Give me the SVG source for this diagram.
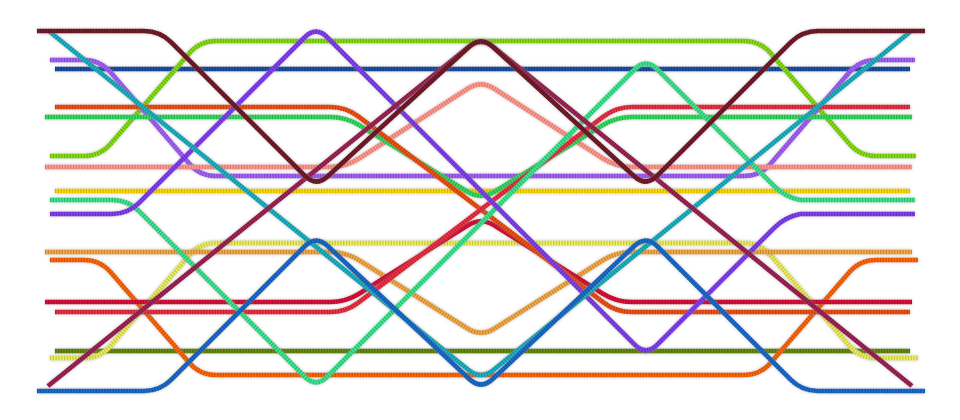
<svg xmlns="http://www.w3.org/2000/svg" xmlns:xlink="http://www.w3.org/1999/xlink" width="960" height="420" viewBox="0 0 960 420">
<style>
.base{fill:none;stroke-width:4.6;stroke-linecap:butt;stroke-linejoin:round}
.tex{fill:none;stroke-width:4.6;stroke-dasharray:1.2 1.6;stroke-opacity:0.5;stroke-linecap:butt}
.ln{filter:url(#halo)}
</style>
<defs>
<filter id="halo" filterUnits="userSpaceOnUse" x="0" y="0" width="960" height="420">
<feGaussianBlur in="SourceAlpha" stdDeviation="1.6" result="b"/>
<feFlood flood-color="#888" flood-opacity="0.55"/>
<feComposite in2="b" operator="in" result="s"/>
<feMerge><feMergeNode in="s"/><feMergeNode in="SourceGraphic"/></feMerge>
</filter>
<path id="p-maroon" d="M37 31 H144 Q160 31 171.3 42.3 L304.7 175.7 Q316 187 327.8 176.2 L469.2 46.8 Q481 36 492.8 46.8 L634.2 176.2 Q646 187 657.3 175.7 L790.7 42.3 Q802 31 818 31 H925"/>
<path id="p-teal" d="M50 32 L468.6 370 Q481 380 493.4 370 L910 32"/>
<path id="p-violet" d="M50 60 H84 Q100 60 110.4 72.1 L189.6 163.9 Q200 176 216 176 H744 Q760 176 770.4 163.9 L849.6 72.1 Q860 60 876 60 H915"/>
<path id="p-navy" d="M55 69 H910"/>
<path id="p-orangered" d="M55 107 H330 Q346 107 358.7 116.7 L603.3 302.3 Q616 312 632 312 H910"/>
<path id="p-red" d="M55 312 H330 Q346 312 358.7 302.3 L603.3 116.7 Q616 107 632 107 H910"/>
<path id="p-green" d="M45 117 H330 Q346 117 359.6 125.4 L467.4 191.6 Q481 200 494.6 191.6 L602.4 125.4 Q616 117 632 117 H912"/>
<path id="p-lime" d="M50 156 H84 Q100 156 110.5 143.9 L189.5 53.1 Q200 41 216 41 H744 Q760 41 770.5 53.1 L849.5 143.9 Q860 156 876 156 H916"/>
<path id="p-pink" d="M45 167 H330 Q346 167 359.4 158.3 L467.6 88.7 Q481 80 494.4 88.7 L602.6 158.3 Q616 167 632 167 H912"/>
<path id="p-yellow" d="M55 191 H910"/>
<path id="p-mint" d="M50 200 H112 Q128 200 139.3 211.3 L304.7 376.7 Q316 388 327.3 376.7 L634.7 69.3 Q646 58 657.3 69.3 L773.7 185.7 Q785 197 800 200 H915"/>
<path id="p-purple" d="M50 214 H112 Q128 214 139.3 202.7 L304.7 37.3 Q316 26 327.3 37.3 L634.7 344.7 Q646 356 657.3 344.7 L773.7 228.3 Q785 217 800 214 H915"/>
<path id="p-paleyellow" d="M50 358 H84 Q100 358 110.5 345.9 L189.5 255.1 Q200 243 216 243 H744 Q760 243 770.5 255.1 L849.5 345.9 Q860 358 876 358 H918"/>
<path id="p-apricot" d="M45 252 H330 Q346 252 359.5 260.5 L467.5 328.5 Q481 337 494.5 328.5 L602.5 260.5 Q616 252 632 252 H912"/>
<path id="p-orange" d="M50 260 H84 Q100 260 110.5 272.1 L189.5 362.9 Q200 375 216 375 H744 Q760 375 770.5 362.9 L849.5 272.1 Q860 260 876 260 H918"/>
<path id="p-crimson" d="M45 302 H330 Q346 302 359.5 293.5 L467.5 225.5 Q481 217 494.5 225.5 L602.5 293.5 Q616 302 632 302 H912"/>
<path id="p-olive" d="M55 351 H910"/>
<path id="p-blue" d="M37 391 H144 Q160 391 171.3 379.7 L304.7 246.3 Q316 235 327.7 246 L469.3 379 Q481 390 492.7 379 L634.3 246 Q646 235 657.3 246.3 L790.7 379.7 Q802 391 818 391 H925"/>
<path id="p-magenta" d="M48 386 L468.5 47 Q481 37 493.5 47 L912 386"/>
</defs>
<rect width="960" height="420" fill="#ffffff"/>
<g id="connectors">
<g id="line-navy" class="ln"><use href="#p-navy" class="base" stroke="#1a52a8"/><use href="#p-navy" class="tex" stroke="#0a2a60"/></g>
<g id="line-yellow" class="ln"><use href="#p-yellow" class="base" stroke="#ffdd00"/><use href="#p-yellow" class="tex" stroke="#b08a00"/></g>
<g id="line-olive" class="ln"><use href="#p-olive" class="base" stroke="#6a8c10"/><use href="#p-olive" class="tex" stroke="#3a5000"/></g>
<g id="line-lime" class="ln"><use href="#p-lime" class="base" stroke="#8ae010"/><use href="#p-lime" class="tex" stroke="#4a8a00"/></g>
<g id="line-violet" class="ln"><use href="#p-violet" class="base" stroke="#a564f8"/><use href="#p-violet" class="tex" stroke="#6a30b0"/></g>
<g id="line-paleyellow" class="ln"><use href="#p-paleyellow" class="base" stroke="#eef060"/><use href="#p-paleyellow" class="tex" stroke="#a0a020"/></g>
<g id="line-orange" class="ln"><use href="#p-orange" class="base" stroke="#ff6a08"/><use href="#p-orange" class="tex" stroke="#a03a00"/></g>
<g id="line-pink" class="ln"><use href="#p-pink" class="base" stroke="#ff9a90"/><use href="#p-pink" class="tex" stroke="#c05a50"/></g>
<g id="line-green" class="ln"><use href="#p-green" class="base" stroke="#34e060"/><use href="#p-green" class="tex" stroke="#108a30"/></g>
<g id="line-apricot" class="ln"><use href="#p-apricot" class="base" stroke="#f5aa48"/><use href="#p-apricot" class="tex" stroke="#a06a10"/></g>
<g id="line-crimson" class="ln"><use href="#p-crimson" class="base" stroke="#e0103c"/><use href="#p-crimson" class="tex" stroke="#80001c"/></g>
<g id="line-orangered" class="ln"><use href="#p-orangered" class="base" stroke="#f25412"/><use href="#p-orangered" class="tex" stroke="#902a00"/></g>
<g id="line-red" class="ln"><use href="#p-red" class="base" stroke="#ee3444"/><use href="#p-red" class="tex" stroke="#901020"/></g>
<g id="line-mint" class="ln"><use href="#p-mint" class="base" stroke="#40e890"/><use href="#p-mint" class="tex" stroke="#10905a"/></g>
<g id="line-purple" class="ln"><use href="#p-purple" class="base" stroke="#8444f0"/><use href="#p-purple" class="tex" stroke="#4a1a9a"/></g>
<g id="line-teal" class="ln"><use href="#p-teal" class="base" stroke="#1ab6c6"/><use href="#p-teal" class="tex" stroke="#0a6a78"/></g>
<g id="line-blue" class="ln"><use href="#p-blue" class="base" stroke="#1a70cc"/><use href="#p-blue" class="tex" stroke="#0a3a80"/></g>
<g id="line-magenta" class="ln"><use href="#p-magenta" class="base" stroke="#a3285a"/><use href="#p-magenta" class="tex" stroke="#5a0a2a"/></g>
<g id="line-maroon" class="ln"><use href="#p-maroon" class="base" stroke="#7a1e2e"/><use href="#p-maroon" class="tex" stroke="#3a0610"/></g>
</g>
</svg>
